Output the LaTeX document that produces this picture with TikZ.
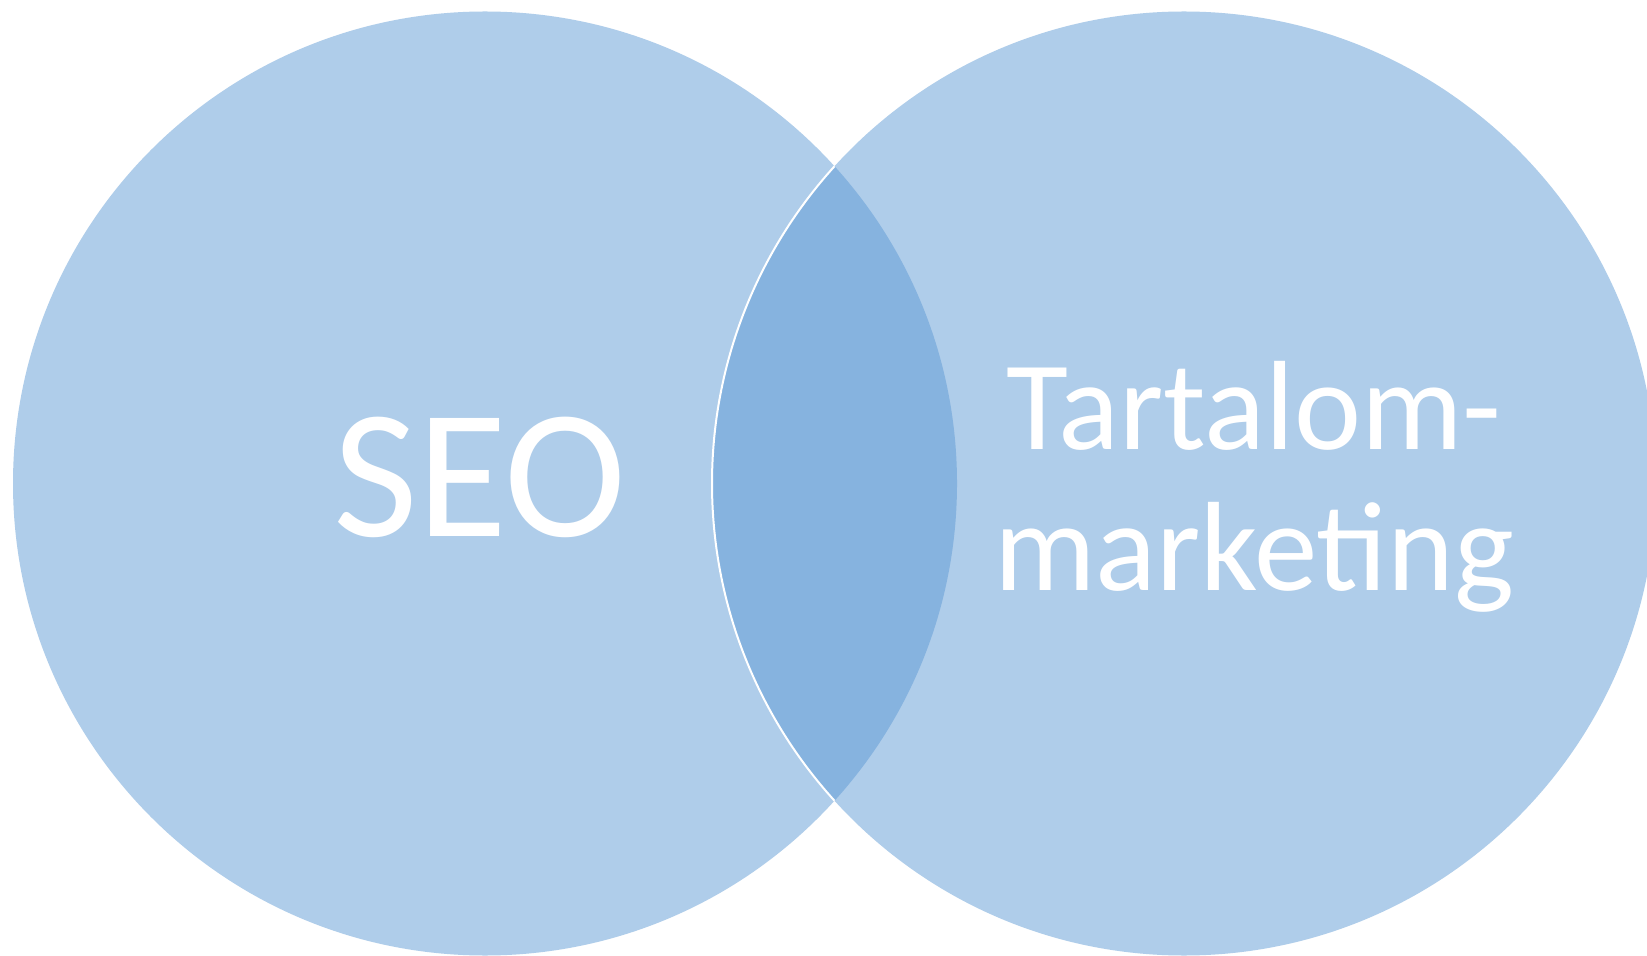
\documentclass[tikz,border=0pt]{standalone}
\usepackage{fontspec}
\setmainfont{Carlito}
\usetikzlibrary{positioning}
\definecolor{vennlight}{RGB}{175,205,234}
\definecolor{venndark}{RGB}{134,179,223}
\tikzset{
	venn/.style={circle,fill=vennlight,minimum size=472pt,inner sep=0pt,outer sep=0pt},
	venn radius/.store in=\vennrad,
	venn radius=236pt,
	vennlabel/.style={text=white,inner sep=0pt,anchor=base},
	big label/.style={vennlabel,font=\fontsize{92pt}{100pt}\selectfont},
	small label/.style={vennlabel,font=\fontsize{63.5pt}{70pt}\selectfont}
}
\begin{document}
\begin{tikzpicture}[x=0.5pt,y=-0.5pt]
      \useasboundingbox[fill=white] (0,0) rectangle (1647,956);
      \node[venn] (seo) at (485,483.5) {};
      \node[venn] (content) at (1184,483.5) {};
      % overlap
      \begin{scope}
         \clip (seo.center) circle[radius=\vennrad];
         \fill[venndark] (content.center) circle[radius=\vennrad];
         \draw[white,line width=1pt] (content.center) circle[radius=\vennrad];
      \end{scope}
      \node[big label] (seotext) at (480,536) {SEO};
      \node[small label] (tart) at (1254,450) {Tartalom-};
      \node[small label] (mark) at (1254,590) {marketing};
\end{tikzpicture}
\end{document}
